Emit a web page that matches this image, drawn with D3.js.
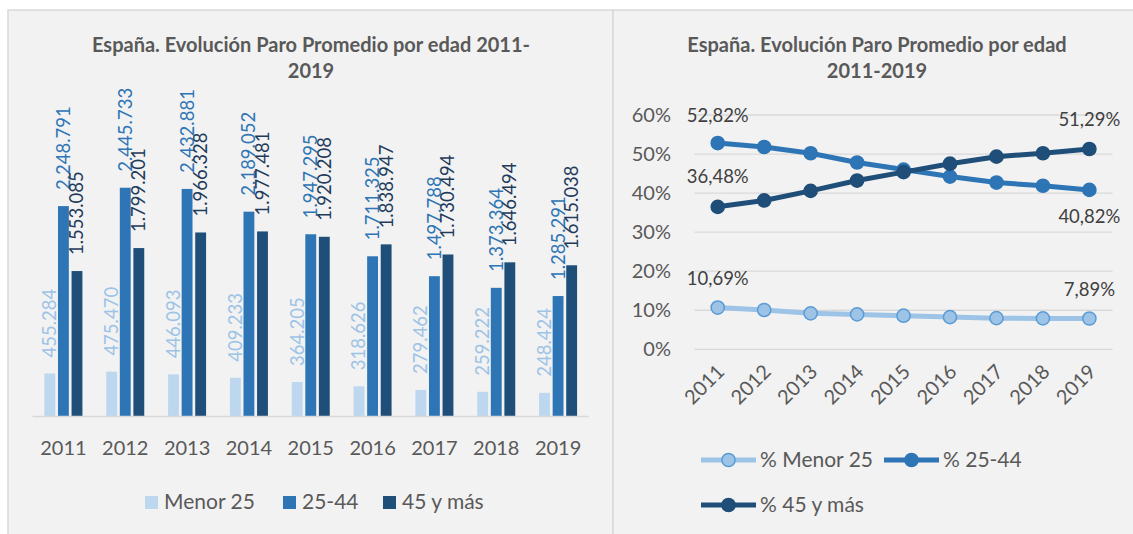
<!DOCTYPE html>
<html>
<head>
<meta charset="utf-8">
<script src="https://cdn.jsdelivr.net/npm/d3@7"></script>
<style>
  html, body { margin: 0; padding: 0; background: #fff; }
  svg { display: block; font-family: Lato, "Open Sans", sans-serif; }
</style>
</head>
<body>
<svg id="chart" width="1133" height="534"></svg>
<script>
// data
const years = ["2011", "2012", "2013", "2014", "2015", "2016", "2017", "2018", "2019"];
const seriesNames = ["Menor 25", "25-44", "45 y más"];
const menor25 = [455284, 475470, 446093, 409233, 364205, 318626, 279462, 259222, 248424];
const de25a44 = [2248791, 2445733, 2432881, 2189052, 1947295, 1711325, 1497788, 1373364, 1285291];
const mas45 = [1553085, 1799201, 1966328, 1977481, 1920208, 1838947, 1730494, 1646494, 1615038];

const pctNames = ["% Menor 25", "% 25-44", "% 45 y más"];
const pctMenor25 = [10.69, 10.07, 9.21, 8.94, 8.61, 8.24, 7.97, 7.91, 7.89];
const pct25a44 = [52.82, 51.81, 50.21, 47.84, 46.02, 44.23, 42.70, 41.88, 40.82];
const pct45 = [36.48, 38.12, 40.58, 43.22, 45.37, 47.53, 49.33, 50.21, 51.29];
const pctTicks = [0, 10, 20, 30, 40, 50, 60];

const es = d3.formatLocale({ decimal: ",", thousands: ".", grouping: [3], currency: ["", " €"] });
const fmtInt = es.format(",d");
const fmtPct = v => es.format(".2f")(v) + "%";

const svg = d3.select("#chart");
const gray = "#595959";

// panels
svg.append("rect").attr("x", 8).attr("y", 10).attr("width", 605).attr("height", 540)
  .attr("fill", "#f2f2f2").attr("stroke", "#d9d9d9").attr("stroke-width", 1.5);
svg.append("rect").attr("x", 613).attr("y", 10).attr("width", 540).attr("height", 540)
  .attr("fill", "#f2f2f2").attr("stroke", "#d9d9d9").attr("stroke-width", 1.5);

// ---------- left: bars ----------
const barColors = ["#bdd7ee", "#2e75b6", "#1f4e79"];
const labelColors = ["#9dc3e6", "#2e75b6", "#1f3b5c"];
const barData = [menor25, de25a44, mas45];

const left = svg.append("g");

left.append("text").attr("x", 311).attr("y", 45).attr("dy", "0.35em")
  .attr("text-anchor", "middle").attr("font-weight", "bold").attr("font-size", 20).attr("fill", gray)
  .text("España. Evolución Paro Promedio por edad 2011-");
left.append("text").attr("x", 311).attr("y", 71).attr("dy", "0.35em")
  .attr("text-anchor", "middle").attr("font-weight", "bold").attr("font-size", 20).attr("fill", gray)
  .text("2019");

const x0 = d3.scaleBand().domain(years).range([32.5, 589]);
const y0 = d3.scaleLinear().domain([0, 3000000]).range([416, 136]);

const groups = left.selectAll("g.year")
  .data(years)
  .join("g")
    .attr("class", "year")
    .attr("transform", d => `translate(${x0(d) + x0.bandwidth() / 2},0)`);

const x1 = d3.scaleBand().domain(d3.range(3)).range([-19, 19]).paddingInner(0.2);

groups.each(function(yr, i) {
  const g = d3.select(this);
  const vals = barData.map(s => s[i]);
  g.selectAll("rect")
    .data(vals)
    .join("rect")
      .attr("x", (d, j) => x1(j))
      .attr("y", d => y0(d))
      .attr("width", x1.bandwidth())
      .attr("height", d => y0(0) - y0(d))
      .attr("fill", (d, j) => barColors[j]);
  g.selectAll("text")
    .data(vals)
    .join("text")
      .attr("transform", (d, j) => `translate(${x1(j) + x1.bandwidth() / 2},${y0(d) - 16}) rotate(-90)`)
      .attr("dy", "0.35em")
      .attr("font-size", 18.5)
      .attr("fill", (d, j) => labelColors[j])
      .text(d => fmtInt(d));
});

left.append("line").attr("x1", 32.5).attr("x2", 589).attr("y1", 416.5).attr("y2", 416.5)
  .attr("stroke", "#d9d9d9").attr("stroke-width", 1.5);

left.append("g")
  .attr("transform", "translate(0,416)")
  .call(d3.axisBottom(x0).tickSize(0).tickPadding(0))
  .call(g => g.select(".domain").remove())
  .selectAll("text")
    .attr("y", 32).attr("dy", "0.35em")
    .attr("font-family", "Lato, 'Open Sans', sans-serif")
    .attr("font-size", 20).attr("fill", gray);

const legL = left.append("g");
const legLx = [145, 283, 383];
seriesNames.forEach((name, j) => {
  legL.append("rect").attr("x", legLx[j]).attr("y", 496).attr("width", 13).attr("height", 13)
    .attr("fill", barColors[j]);
  legL.append("text").attr("x", legLx[j] + 19).attr("y", 502).attr("dy", "0.35em")
    .attr("font-size", 21).attr("fill", gray).text(name);
});

// ---------- right: lines ----------
const lineColors = ["#9dc3e6", "#2e75b6", "#1f4e79"];
const markerStroke = ["#5b9bd5", "#2e75b6", "#1f4e79"];
const lineData = [pctMenor25, pct25a44, pct45];

const right = svg.append("g");

right.append("text").attr("x", 877).attr("y", 45).attr("dy", "0.35em")
  .attr("text-anchor", "middle").attr("font-weight", "bold").attr("font-size", 20).attr("fill", gray)
  .text("España. Evolución Paro Promedio por edad");
right.append("text").attr("x", 877).attr("y", 71).attr("dy", "0.35em")
  .attr("text-anchor", "middle").attr("font-weight", "bold").attr("font-size", 20).attr("fill", gray)
  .text("2011-2019");

const xr = d3.scalePoint().domain(years).range([694.5, 1112.6]).padding(0.5);
const yr = d3.scaleLinear().domain([0, 60]).range([349.3, 115]);

right.append("g")
  .selectAll("line")
  .data(pctTicks)
  .join("line")
    .attr("x1", 694.5).attr("x2", 1112.6)
    .attr("y1", d => yr(d)).attr("y2", d => yr(d))
    .attr("stroke", "#d9d9d9").attr("stroke-width", 1.3);

right.append("g")
  .attr("transform", "translate(671,0)")
  .call(d3.axisLeft(yr).tickValues(pctTicks).tickSize(0).tickPadding(0).tickFormat(d => d + "%"))
  .call(g => g.select(".domain").remove())
  .selectAll("text")
    .attr("font-family", "Lato, 'Open Sans', sans-serif")
    .attr("font-size", 20).attr("fill", gray);

right.append("g")
  .selectAll("text")
  .data(years)
  .join("text")
    .attr("transform", d => `translate(${xr(d) + 3},${368}) rotate(-45)`)
    .attr("text-anchor", "end").attr("dy", "0.35em")
    .attr("font-size", 20).attr("fill", gray)
    .text(d => d);

const line = d3.line().x((d, i) => xr(years[i])).y(d => yr(d));

lineData.forEach((vals, j) => {
  right.append("path").datum(vals)
    .attr("d", line).attr("fill", "none")
    .attr("stroke", lineColors[j]).attr("stroke-width", 5).attr("stroke-linejoin", "round");
  right.append("g").selectAll("circle")
    .data(vals)
    .join("circle")
      .attr("cx", (d, i) => xr(years[i])).attr("cy", d => yr(d)).attr("r", 6.6)
      .attr("fill", lineColors[j]).attr("stroke", markerStroke[j]).attr("stroke-width", 1.5);
});

// endpoint labels (first and last point); 25-44 last label sits below
const labelOffsets = [[-29, -29], [-28, 27], [-30, -29]];
lineData.forEach((vals, j) => {
  [0, vals.length - 1].forEach((i, k) => {
    right.append("text")
      .attr("x", xr(years[i])).attr("y", yr(vals[i]) + labelOffsets[j][k]).attr("dy", "0.35em")
      .attr("text-anchor", "middle").attr("font-size", 18.5).attr("fill", "#404040")
      .text(fmtPct(vals[i]));
  });
});

const legR = right.append("g");
const legRpos = [[701, 460], [884, 460], [701, 505]];
pctNames.forEach((name, j) => {
  const [lx, ly] = legRpos[j];
  legR.append("line").attr("x1", lx).attr("x2", lx + 55).attr("y1", ly).attr("y2", ly)
    .attr("stroke", lineColors[j]).attr("stroke-width", 5);
  legR.append("circle").attr("cx", lx + 27.5).attr("cy", ly).attr("r", 6.6)
    .attr("fill", lineColors[j]).attr("stroke", markerStroke[j]).attr("stroke-width", 1.5);
  legR.append("text").attr("x", lx + 59).attr("y", ly).attr("dy", "0.35em")
    .attr("font-size", 21).attr("fill", gray).text(name);
});
</script>
</body>
</html>
